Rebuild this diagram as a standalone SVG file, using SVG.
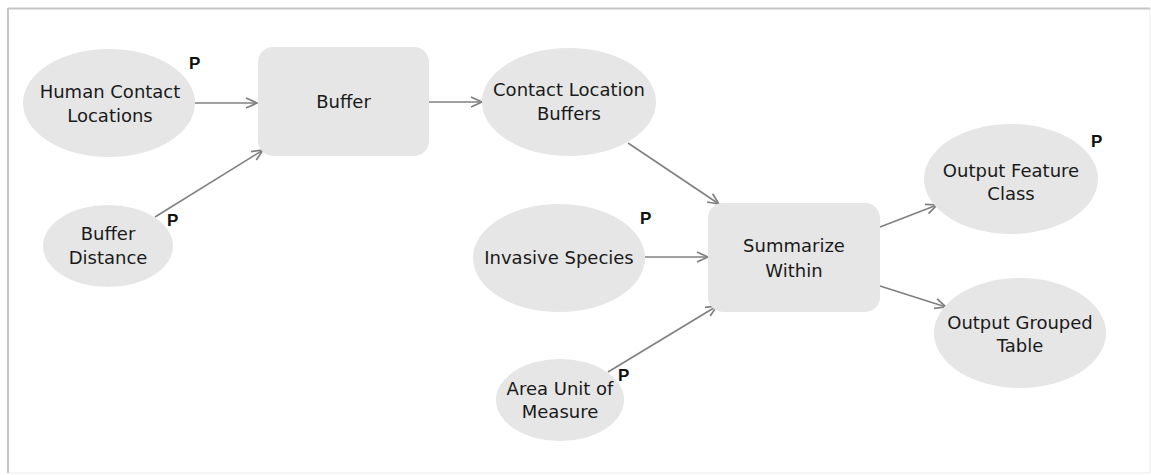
<svg xmlns="http://www.w3.org/2000/svg" width="1151" height="475" viewBox="0 0 1151 475">
<defs>
<style>
.n{fill:#e6e6e6;stroke:none}
.t{font-family:"DejaVu Sans",Verdana,sans-serif;font-size:18px;fill:#1a1a1a;text-anchor:middle}
.p{font-family:"Liberation Sans",Arial,sans-serif;font-weight:bold;font-size:17px;fill:#111}
.c{stroke:#808080;stroke-width:1.6;fill:none;marker-end:url(#ah)}
</style>
<marker id="ah" markerUnits="userSpaceOnUse" markerWidth="14" markerHeight="14" refX="12" refY="6" orient="auto" viewBox="0 0 14 12">
<path d="M1,1 L12,6 L1,11" fill="none" stroke="#808080" stroke-width="1.7"/>
</marker>
</defs>
<rect width="1151" height="475" fill="#fff"/>
<line x1="1150" y1="8" x2="1150" y2="473" stroke="#ececec" stroke-width="1"/>
<line x1="7" y1="473" x2="1150" y2="473" stroke="#ececec" stroke-width="1"/>
<line x1="8" y1="8.5" x2="1150" y2="8.5" stroke="#c6c6c6" stroke-width="2"/>
<line x1="8" y1="8" x2="8" y2="473" stroke="#c6c6c6" stroke-width="2"/>
<g id="connectors">
<line class="c" x1="195" y1="103" x2="257" y2="103"/>
<line class="c" x1="155" y1="217" x2="263" y2="150"/>
<line class="c" x1="429" y1="102" x2="482" y2="102"/>
<line class="c" x1="628" y1="143" x2="719" y2="204"/>
<line class="c" x1="645" y1="257" x2="708" y2="257"/>
<line class="c" x1="608" y1="372" x2="717" y2="306"/>
<line class="c" x1="880" y1="227" x2="937" y2="205"/>
<line class="c" x1="880" y1="286" x2="946" y2="307"/>
</g>
<g id="human-contact-locations">
<ellipse class="n" cx="109" cy="103" rx="86" ry="54"/>
<text class="t" x="110" y="98">Human Contact</text>
<text class="t" x="110" y="122">Locations</text>
<text class="p" x="189" y="69">P</text>
</g>
<g id="buffer-distance">
<ellipse class="n" cx="108" cy="246" rx="65" ry="41"/>
<text class="t" x="108" y="240">Buffer</text>
<text class="t" x="108" y="264">Distance</text>
<text class="p" x="167" y="226">P</text>
</g>
<g id="buffer">
<rect class="n" x="258" y="47" width="171" height="109" rx="15"/>
<text class="t" x="343.5" y="108">Buffer</text>
</g>
<g id="contact-location-buffers">
<ellipse class="n" cx="569" cy="102" rx="87" ry="54"/>
<text class="t" x="569" y="96">Contact Location</text>
<text class="t" x="569" y="120">Buffers</text>
</g>
<g id="invasive-species">
<ellipse class="n" cx="559" cy="258" rx="86" ry="54"/>
<text class="t" x="559" y="264">Invasive Species</text>
<text class="p" x="640" y="224">P</text>
</g>
<g id="area-unit-of-measure">
<ellipse class="n" cx="560" cy="400" rx="64" ry="41"/>
<text class="t" x="560" y="395">Area Unit of</text>
<text class="t" x="560" y="418">Measure</text>
<text class="p" x="618" y="381">P</text>
</g>
<g id="summarize-within">
<rect class="n" x="708" y="203" width="172" height="109" rx="15"/>
<text class="t" x="794" y="252">Summarize</text>
<text class="t" x="794" y="277">Within</text>
</g>
<g id="output-feature-class">
<ellipse class="n" cx="1011" cy="179" rx="87" ry="55"/>
<text class="t" x="1011" y="177">Output Feature</text>
<text class="t" x="1011" y="200">Class</text>
<text class="p" x="1091" y="147">P</text>
</g>
<g id="output-grouped-table">
<ellipse class="n" cx="1020" cy="333" rx="86" ry="55"/>
<text class="t" x="1020" y="329">Output Grouped</text>
<text class="t" x="1020" y="352">Table</text>
</g>
</svg>
